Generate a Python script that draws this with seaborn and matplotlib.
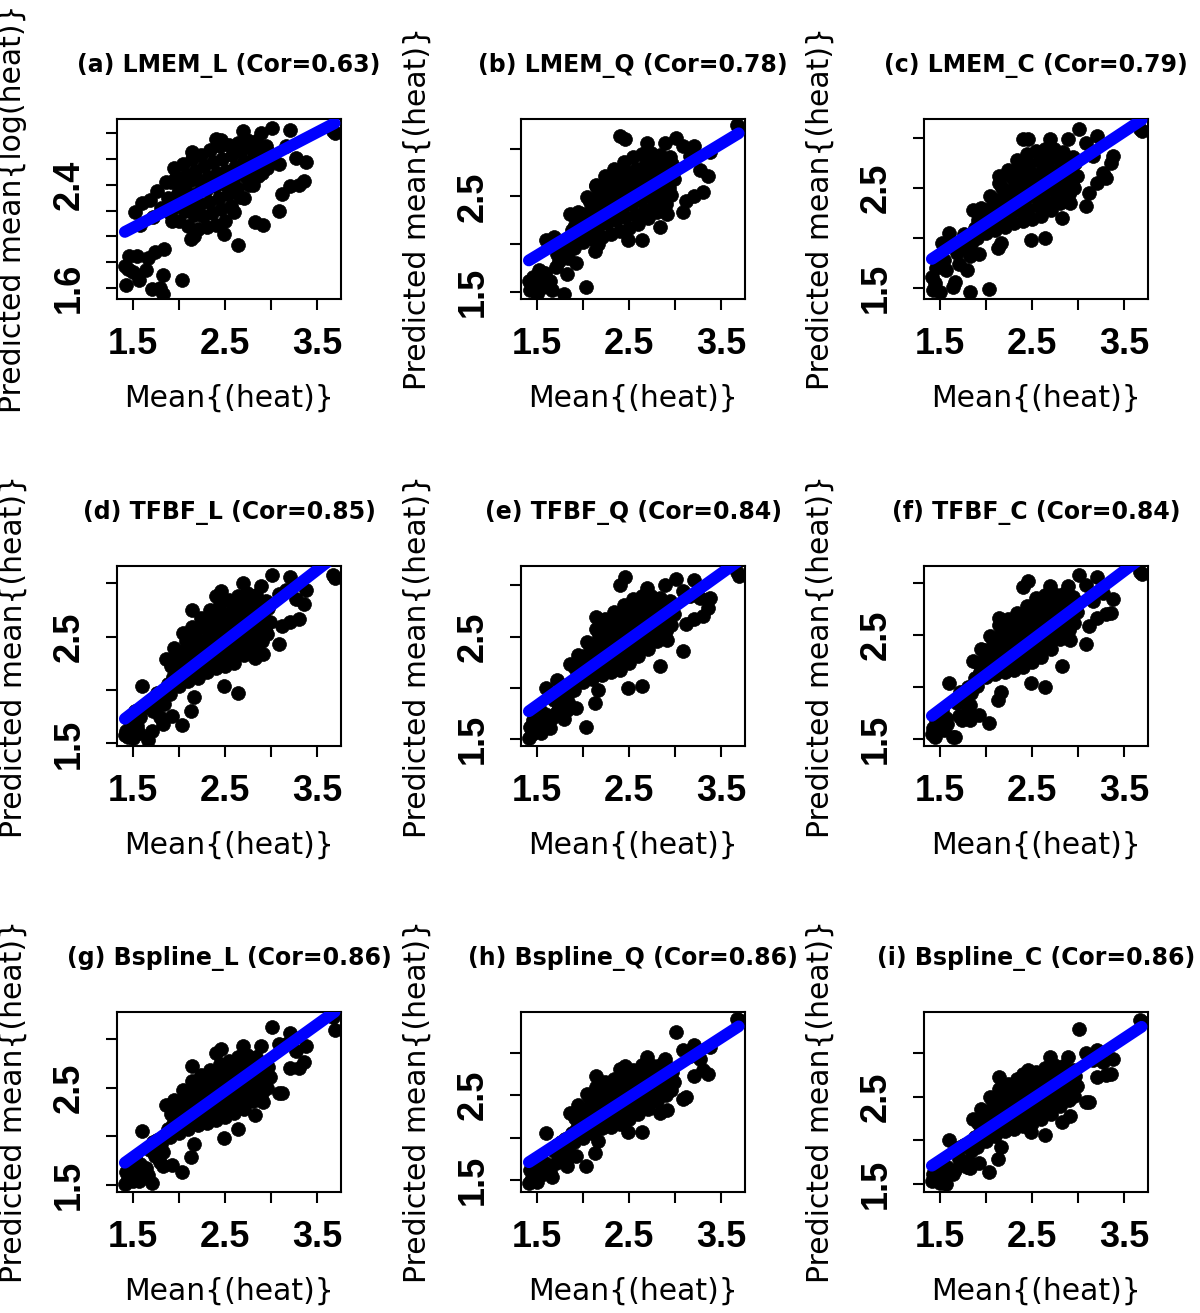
import matplotlib
matplotlib.use("Agg")
import matplotlib.pyplot as plt
import seaborn as sns

# observed Mean{(heat)} (shared by all nine panels)
heat_mean = [
    1.41, 1.42, 1.44, 1.46, 1.50, 1.52, 1.54, 1.56, 1.58, 1.60, 1.64, 1.66,
    1.68, 1.70, 1.72, 1.74, 1.76, 1.79, 1.80, 1.82, 1.83, 1.84, 1.86, 1.88,
    1.90, 1.91, 1.93, 1.94, 1.96, 1.97, 1.99,
    2.00, 2.01, 2.03, 2.04, 2.06, 2.07, 2.09,
    2.10, 2.11, 2.13, 2.14, 2.16, 2.17, 2.19,
    2.20, 2.21, 2.23, 2.24, 2.26, 2.27, 2.29,
    2.30, 2.31, 2.33, 2.34, 2.36, 2.37, 2.39,
    2.40, 2.41, 2.43, 2.44, 2.46, 2.47, 2.49,
    2.50, 2.51, 2.53, 2.54, 2.56, 2.57, 2.59,
    2.60, 2.61, 2.63, 2.64, 2.66, 2.67, 2.69,
    2.70, 2.71, 2.73, 2.74, 2.76, 2.77, 2.79,
    2.80, 2.81, 2.83, 2.84, 2.86, 2.87, 2.89,
    2.90, 2.91, 2.93, 2.94, 2.96, 2.97, 2.99,
    2.03, 2.13, 1.92, 2.16, 2.64, 2.49, 2.14, 2.40, 2.46,
    3.67, 3.69, 3.01, 3.21, 3.38, 3.36, 3.20, 3.09, 3.27, 2.91, 2.83, 3.09,
    2.89, 2.69, 3.12, 3.30, 3.16,
]

pred_a = [
    1.77, 1.62, 1.75, 1.85, 1.72, 2.19, 1.85, 1.66, 2.09, 2.26, 1.74, 1.83,
    2.28, 1.59, 2.15, 1.88, 2.35, 1.60, 2.22, 1.70, 1.55, 1.90, 2.42, 2.30,
    2.18, 2.42, 2.29, 2.53, 2.23, 2.46, 2.34,
    2.12, 2.41, 2.27, 2.56, 2.20, 2.48, 2.34,
    2.08, 2.43, 2.25, 2.60, 2.17, 2.51, 2.34,
    2.06, 2.44, 2.25, 2.63, 2.16, 2.55, 2.36,
    2.07, 2.46, 2.27, 2.67, 2.18, 2.58, 2.39,
    2.09, 2.49, 2.30, 2.70, 2.21, 2.60, 2.41,
    2.12, 2.51, 2.33, 2.71, 2.24, 2.63, 2.44,
    2.19, 2.54, 2.38, 2.73, 2.31, 2.67, 2.51,
    2.30, 2.59, 2.46, 2.75, 2.40, 2.69, 2.56,
    2.40, 2.62, 2.52, 2.74, 2.47, 2.69, 2.59,
    2.49, 2.63, 2.56, 2.70, 2.53, 2.66, 2.60,
    1.66, 1.98, 2.12, 2.00, 1.93, 2.02, 2.66, 2.76, 2.75,
    2.82, 2.80, 2.84, 2.83, 2.58, 2.43, 2.39, 2.20, 2.61, 2.09, 2.11, 2.56,
    2.80, 2.82, 2.33, 2.40, 2.70,
]

pred_b = [
    1.62, 1.52, 1.58, 1.66, 1.48, 1.73, 1.60, 1.55, 1.70, 2.04, 1.62, 1.52,
    2.08, 1.76, 1.90, 1.82, 1.98, 1.48, 1.95, 1.69, 1.86, 2.00, 2.32, 2.15,
    1.96, 2.20, 2.10, 2.34, 2.08, 2.32, 2.22,
    2.02, 2.32, 2.19, 2.49, 2.13, 2.44, 2.30,
    2.05, 2.41, 2.25, 2.61, 2.18, 2.54, 2.38,
    2.08, 2.49, 2.30, 2.71, 2.22, 2.63, 2.44,
    2.11, 2.56, 2.35, 2.79, 2.25, 2.70, 2.49,
    2.14, 2.62, 2.39, 2.86, 2.28, 2.76, 2.53,
    2.17, 2.66, 2.42, 2.91, 2.31, 2.79, 2.56,
    2.21, 2.69, 2.46, 2.94, 2.35, 2.83, 2.60,
    2.27, 2.72, 2.50, 2.95, 2.40, 2.85, 2.63,
    2.34, 2.73, 2.55, 2.93, 2.46, 2.85, 2.66,
    2.42, 2.75, 2.59, 2.91, 2.51, 2.84, 2.68,
    1.55, 1.93, 1.80, 2.00, 2.04, 2.04, 2.62, 3.13, 3.10,
    3.25, 3.22, 3.11, 3.03, 2.96, 2.71, 2.50, 2.34, 2.78, 2.32, 2.18, 3.03,
    3.06, 3.06, 2.45, 2.55, 2.92,
]

pred_c = [
    1.61, 1.48, 1.55, 1.70, 1.46, 1.95, 1.78, 1.68, 1.92, 2.05, 1.51, 1.56,
    1.85, 1.74, 1.96, 1.90, 2.04, 1.68, 1.99, 1.46, 1.82, 1.94, 2.28, 2.10,
    2.00, 2.18, 2.11, 2.30, 2.09, 2.28, 2.20,
    2.05, 2.28, 2.18, 2.42, 2.15, 2.38, 2.28,
    2.08, 2.38, 2.25, 2.55, 2.20, 2.50, 2.36,
    2.11, 2.48, 2.31, 2.68, 2.24, 2.61, 2.44,
    2.15, 2.56, 2.37, 2.78, 2.28, 2.69, 2.50,
    2.17, 2.61, 2.40, 2.84, 2.29, 2.74, 2.52,
    2.19, 2.64, 2.42, 2.87, 2.32, 2.77, 2.55,
    2.22, 2.67, 2.45, 2.89, 2.35, 2.79, 2.58,
    2.28, 2.68, 2.49, 2.89, 2.39, 2.80, 2.60,
    2.35, 2.69, 2.53, 2.86, 2.45, 2.79, 2.63,
    2.44, 2.69, 2.56, 2.81, 2.50, 2.75, 2.62,
    1.49, 1.90, 1.84, 1.95, 2.00, 1.98, 2.62, 2.99, 2.99,
    3.09, 3.07, 3.09, 3.02, 2.82, 2.75, 2.55, 2.32, 2.65, 2.35, 2.20, 2.95,
    2.99, 2.99, 2.45, 2.60, 2.82,
]

pred_d = [
    1.58, 1.62, 1.56, 1.72, 1.55, 1.80, 1.66, 1.60, 1.75, 2.04, 1.84, 1.53,
    1.90, 1.62, 1.80, 1.84, 1.97, 1.75, 1.94, 1.72, 1.68, 1.87, 2.29, 2.06,
    1.96, 2.22, 2.12, 2.39, 2.10, 2.36, 2.26,
    2.04, 2.36, 2.21, 2.53, 2.15, 2.46, 2.32,
    2.08, 2.41, 2.26, 2.59, 2.19, 2.52, 2.37,
    2.11, 2.47, 2.31, 2.67, 2.24, 2.60, 2.44,
    2.17, 2.55, 2.37, 2.75, 2.29, 2.67, 2.50,
    2.21, 2.60, 2.41, 2.80, 2.32, 2.71, 2.52,
    2.22, 2.63, 2.43, 2.84, 2.34, 2.75, 2.55,
    2.25, 2.66, 2.47, 2.88, 2.39, 2.80, 2.61,
    2.33, 2.71, 2.53, 2.91, 2.44, 2.82, 2.64,
    2.40, 2.72, 2.56, 2.89, 2.48, 2.81, 2.65,
    2.46, 2.71, 2.58, 2.83, 2.52, 2.77, 2.64,
    1.67, 1.80, 1.76, 1.93, 1.97, 2.04, 2.75, 2.88, 2.93,
    3.08, 3.05, 3.08, 3.06, 2.94, 2.80, 2.64, 2.43, 2.85, 2.34, 2.30, 2.90,
    2.97, 3.00, 2.60, 2.66, 2.94,
]

pred_e = [
    1.51, 1.62, 1.55, 1.68, 1.58, 1.80, 1.56, 1.66, 1.74, 2.00, 1.61, 1.70,
    1.88, 1.75, 2.08, 1.82, 1.92, 1.69, 1.98, 1.78, 1.86, 1.95, 2.23, 2.04,
    1.98, 2.19, 2.11, 2.32, 2.09, 2.30, 2.22,
    2.06, 2.31, 2.20, 2.45, 2.16, 2.41, 2.30,
    2.09, 2.40, 2.26, 2.57, 2.21, 2.51, 2.38,
    2.12, 2.48, 2.31, 2.67, 2.24, 2.59, 2.43,
    2.15, 2.53, 2.35, 2.74, 2.26, 2.65, 2.47,
    2.17, 2.59, 2.40, 2.81, 2.31, 2.73, 2.54,
    2.24, 2.65, 2.46, 2.87, 2.37, 2.78, 2.59,
    2.31, 2.69, 2.51, 2.90, 2.42, 2.81, 2.63,
    2.38, 2.72, 2.56, 2.90, 2.48, 2.83, 2.66,
    2.46, 2.73, 2.60, 2.88, 2.54, 2.82, 2.69,
    2.55, 2.74, 2.65, 2.85, 2.61, 2.81, 2.72,
    1.62, 1.85, 1.80, 1.98, 2.02, 2.00, 2.69, 3.00, 3.08,
    3.13, 3.09, 3.06, 3.05, 2.88, 2.78, 2.67, 2.36, 2.88, 2.47, 2.21, 2.95,
    3.00, 2.98, 2.62, 2.70, 2.90,
]

pred_f = [
    1.55, 1.60, 1.52, 1.68, 1.62, 1.78, 1.58, 1.70, 1.64, 2.04, 1.52, 1.52,
    1.84, 1.72, 1.95, 1.68, 1.90, 1.76, 2.00, 1.68, 1.82, 1.94, 2.25, 2.08,
    2.01, 2.23, 2.14, 2.36, 2.13, 2.35, 2.26,
    2.09, 2.35, 2.23, 2.49, 2.19, 2.45, 2.34,
    2.12, 2.43, 2.28, 2.59, 2.22, 2.53, 2.39,
    2.14, 2.48, 2.32, 2.65, 2.24, 2.58, 2.42,
    2.16, 2.52, 2.35, 2.71, 2.28, 2.63, 2.47,
    2.19, 2.58, 2.40, 2.78, 2.32, 2.71, 2.53,
    2.24, 2.64, 2.45, 2.85, 2.36, 2.76, 2.57,
    2.29, 2.67, 2.49, 2.88, 2.40, 2.79, 2.61,
    2.36, 2.71, 2.54, 2.89, 2.47, 2.82, 2.66,
    2.46, 2.74, 2.61, 2.89, 2.55, 2.83, 2.70,
    2.55, 2.76, 2.66, 2.86, 2.61, 2.82, 2.72,
    1.65, 1.87, 1.73, 1.95, 2.00, 2.04, 2.66, 2.96, 3.02,
    3.10, 3.08, 3.07, 3.05, 2.84, 2.71, 2.66, 2.41, 2.90, 2.45, 2.20, 2.98,
    2.97, 2.97, 2.58, 2.70, 2.82,
]

pred_g = [
    1.51, 1.63, 1.56, 1.66, 1.54, 1.78, 1.60, 1.54, 1.72, 2.06, 1.68, 1.60,
    1.86, 1.52, 1.94, 1.80, 1.96, 1.74, 1.92, 1.70, 1.84, 2.00, 2.32, 2.08,
    1.99, 2.23, 2.13, 2.37, 2.10, 2.34, 2.23,
    2.04, 2.32, 2.20, 2.48, 2.15, 2.43, 2.31,
    2.08, 2.40, 2.25, 2.57, 2.19, 2.50, 2.36,
    2.12, 2.45, 2.29, 2.63, 2.22, 2.56, 2.40,
    2.14, 2.50, 2.33, 2.68, 2.25, 2.61, 2.44,
    2.17, 2.54, 2.36, 2.74, 2.28, 2.66, 2.48,
    2.20, 2.58, 2.40, 2.78, 2.32, 2.70, 2.52,
    2.24, 2.62, 2.44, 2.82, 2.35, 2.73, 2.55,
    2.28, 2.65, 2.47, 2.84, 2.39, 2.75, 2.58,
    2.36, 2.66, 2.51, 2.82, 2.44, 2.75, 2.60,
    2.45, 2.65, 2.55, 2.76, 2.50, 2.71, 2.61,
    1.63, 1.79, 1.71, 1.92, 2.08, 1.98, 2.72, 2.86, 2.90,
    3.23, 3.09, 3.13, 3.06, 2.93, 2.77, 2.70, 2.45, 2.88, 2.35, 2.22, 2.95,
    2.93, 2.93, 2.45, 2.70, 2.95,
]

pred_h = [
    1.46, 1.62, 1.52, 1.66, 1.48, 1.76, 1.56, 1.64, 1.70, 2.05, 1.60, 1.54,
    1.84, 1.70, 1.91, 1.80, 1.95, 1.72, 1.98, 1.66, 1.86, 1.76, 2.29, 2.06,
    1.95, 2.23, 2.11, 2.38, 2.07, 2.34, 2.22,
    2.00, 2.33, 2.18, 2.51, 2.12, 2.45, 2.30,
    2.06, 2.41, 2.25, 2.60, 2.18, 2.53, 2.37,
    2.11, 2.47, 2.29, 2.65, 2.21, 2.57, 2.40,
    2.13, 2.50, 2.32, 2.69, 2.24, 2.60, 2.43,
    2.16, 2.54, 2.36, 2.74, 2.29, 2.66, 2.49,
    2.22, 2.60, 2.42, 2.80, 2.34, 2.72, 2.55,
    2.28, 2.65, 2.47, 2.85, 2.39, 2.77, 2.59,
    2.34, 2.68, 2.52, 2.86, 2.45, 2.79, 2.63,
    2.43, 2.71, 2.57, 2.85, 2.51, 2.79, 2.66,
    2.50, 2.71, 2.61, 2.82, 2.56, 2.77, 2.66,
    1.66, 1.82, 1.78, 1.96, 2.07, 2.07, 2.73, 2.81, 2.84,
    3.40, 3.38, 3.24, 3.09, 3.07, 2.75, 2.72, 2.46, 2.92, 2.32, 2.29, 3.03,
    2.93, 2.95, 2.48, 2.80, 2.96,
]

pred_i = [
    1.53, 1.62, 1.56, 1.68, 1.51, 1.76, 1.58, 1.50, 1.70, 2.00, 1.62, 1.66,
    1.86, 1.79, 1.92, 1.76, 1.95, 1.70, 1.96, 1.74, 1.68, 1.88, 2.25, 2.04,
    1.92, 2.20, 2.09, 2.36, 2.05, 2.33, 2.21,
    1.99, 2.32, 2.17, 2.50, 2.11, 2.44, 2.29,
    2.05, 2.40, 2.24, 2.59, 2.17, 2.53, 2.37,
    2.11, 2.47, 2.29, 2.65, 2.21, 2.57, 2.40,
    2.13, 2.50, 2.32, 2.70, 2.24, 2.62, 2.44,
    2.16, 2.54, 2.36, 2.74, 2.28, 2.66, 2.48,
    2.20, 2.58, 2.40, 2.78, 2.32, 2.70, 2.52,
    2.24, 2.63, 2.44, 2.83, 2.36, 2.75, 2.57,
    2.30, 2.67, 2.49, 2.86, 2.42, 2.78, 2.61,
    2.39, 2.69, 2.54, 2.85, 2.47, 2.78, 2.63,
    2.46, 2.69, 2.57, 2.80, 2.51, 2.74, 2.62,
    1.64, 1.79, 1.74, 1.92, 2.06, 2.10, 2.72, 2.76, 2.80,
    3.38, 3.36, 3.27, 3.04, 2.93, 2.76, 2.72, 2.44, 2.90, 2.28, 2.21, 3.00,
    2.95, 2.95, 2.44, 2.75, 2.92,
]

# fitted (blue) line ends at the min / max observed mean
fit_x = [1.41, 3.69]
fit_a = [2.035, 2.88]
fit_b = [1.83, 3.16]
fit_c = [1.79, 3.18]
fit_d = [1.73, 3.25]
fit_e = [1.77, 3.24]
fit_f = [1.72, 3.24]
fit_g = [1.73, 3.28]
fit_h = [1.71, 3.31]
fit_i = [1.71, 3.30]

titles = ["(a) LMEM_L (Cor=0.63)", "(b) LMEM_Q (Cor=0.78)", "(c) LMEM_C (Cor=0.79)",
          "(d) TFBF_L (Cor=0.85)", "(e) TFBF_Q (Cor=0.84)", "(f) TFBF_C (Cor=0.84)",
          "(g) Bspline_L (Cor=0.86)", "(h) Bspline_Q (Cor=0.86)", "(i) Bspline_C (Cor=0.86)"]
ylabels = ["Predicted mean{log(heat)}"] + ["Predicted mean{(heat)}"] * 8
xlabel = "Mean{(heat)}"

preds = [pred_a, pred_b, pred_c, pred_d, pred_e, pred_f, pred_g, pred_h, pred_i]
fits = [fit_a, fit_b, fit_c, fit_d, fit_e, fit_f, fit_g, fit_h, fit_i]
ylims = [(1.514, 2.913), (1.427, 3.31), (1.39, 3.19),
         (1.475, 3.16), (1.43, 3.19), (1.43, 3.16),
         (1.43, 3.28), (1.36, 3.48), (1.41, 3.47)]

xticks = [1.5, 2.0, 2.5, 3.0, 3.5]
xticklabels = ["1.5", "", "2.5", "", "3.5"]
yticks_a = [1.6, 1.8, 2.0, 2.2, 2.4, 2.6, 2.8]
yticklabels_a = ["1.6", "", "", "", "2.4", "", ""]
yticks = [1.5, 2.0, 2.5, 3.0]
yticklabels = ["1.5", "", "2.5", ""]

sns.set_theme(style="ticks")
plt.rcParams["font.family"] = ["DejaVu Sans"]
plt.rcParams["text.color"] = "black"
plt.rcParams["axes.labelcolor"] = "black"
plt.rcParams["xtick.color"] = "black"
plt.rcParams["ytick.color"] = "black"

fig = plt.figure(figsize=(12, 13.13), dpi=100)
lefts = [0.0975, 0.4342, 0.77]
bottoms = [0.7723, 0.4318, 0.0922]
w, h = 0.1867, 0.1371

tick_font = dict(fontfamily="Liberation Sans", fontweight="bold", fontsize=26,
                 color="black")

for k in range(9):
    ax = fig.add_axes([lefts[k % 3], bottoms[k // 3], w, h])
    sns.scatterplot(x=heat_mean, y=preds[k], ax=ax, color="black", s=100,
                    edgecolor="black", linewidth=0.5, zorder=2)
    sns.lineplot(x=fit_x, y=fits[k], ax=ax, color="#0000FF", lw=8.5, zorder=3)
    ax.lines[-1].set_solid_capstyle("round")

    ax.set_xlim(1.325, 3.76)
    ax.set_ylim(*ylims[k])
    ax.set_xticks(xticks)
    ax.set_xticklabels(xticklabels, **tick_font)
    if k == 0:
        ax.set_yticks(yticks_a)
        ax.set_yticklabels(yticklabels_a, rotation=90, va="center", **tick_font)
    else:
        ax.set_yticks(yticks)
        ax.set_yticklabels(yticklabels, rotation=90, va="center", **tick_font)
    ax.tick_params(axis="both", direction="out", length=8, width=1.5,
                   color="black")
    ax.tick_params(axis="x", pad=12)
    ax.tick_params(axis="y", pad=14)
    for sp in ax.spines.values():
        sp.set_visible(True)
        sp.set_linewidth(1.5)
        sp.set_color("black")

    ax.set_title(titles[k], fontsize=17, fontweight="bold", pad=34, color="black")
    ax.set_xlabel(xlabel, fontsize=21.5, color="black")
    ax.set_ylabel(ylabels[k], fontsize=21.5, color="black")
    ax.xaxis.set_label_coords(0.5, -0.47)
    ax.yaxis.set_label_coords(-0.40, 0.5)

fig.savefig("out.png", dpi=100)
